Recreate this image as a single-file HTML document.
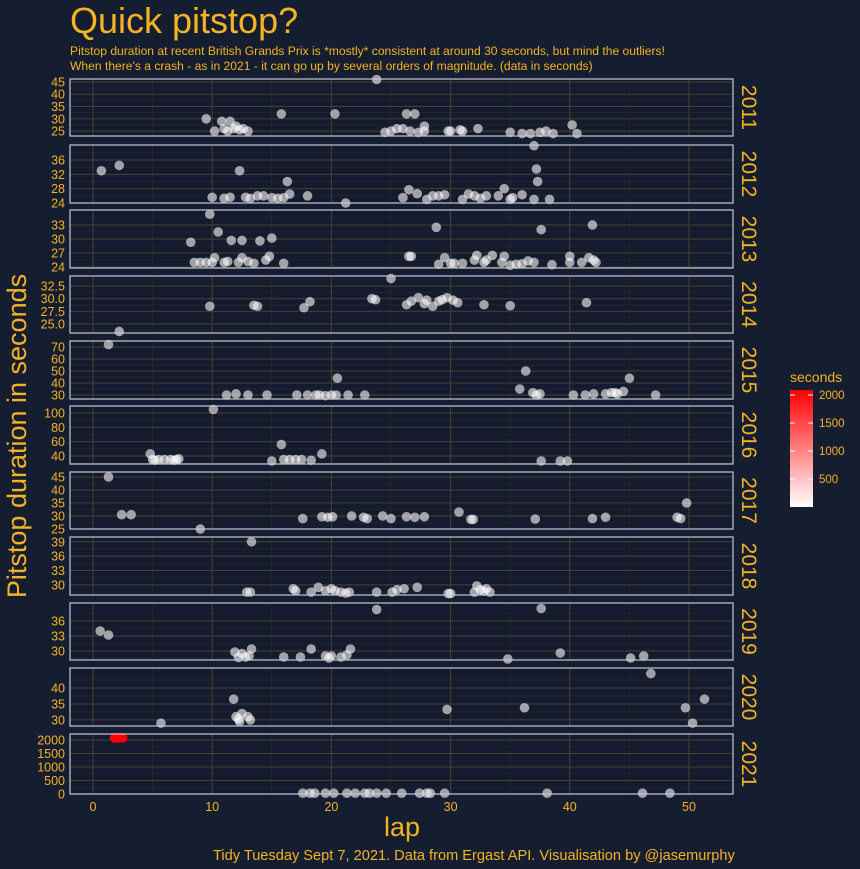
<!DOCTYPE html>
<html><head><meta charset="utf-8">
<style>
html,body{margin:0;padding:0;background:#151d30;}
svg{display:block;font-family:"Liberation Sans",sans-serif;}
</style></head>
<body>
<svg id="chart" width="860" height="869" viewBox="0 0 860 869" xmlns="http://www.w3.org/2000/svg">
<rect x="0" y="0" width="860" height="869" fill="#151d30"/>
<text x="70" y="33" font-size="36" fill="#f5b324">Quick pitstop?</text>
<text x="70" y="55" font-size="12.1" fill="#f5b324">Pitstop duration at recent British Grands Prix is *mostly* consistent at around 30 seconds, but mind the outliers!</text>
<text x="70" y="70" font-size="12.1" fill="#f5b324">When there's a crash - as in 2021 - it can go up by several orders of magnitude. (data in seconds)</text>
<text transform="translate(26,436) rotate(-90)" text-anchor="middle" font-size="27" fill="#f5b324">Pitstop duration in seconds</text>
<text x="402" y="836" text-anchor="middle" font-size="27" fill="#f5b324">lap</text>
<text x="213" y="860" font-size="14.6" fill="#f5b324">Tidy Tuesday Sept 7, 2021. Data from Ergast API. Visualisation by @jasemurphy</text>
<defs><linearGradient id="grad" x1="0" y1="1" x2="0" y2="0">
<stop offset="0" stop-color="#ffffff"/><stop offset="1" stop-color="#ff0000"/></linearGradient></defs>
<g id="legend">
<text x="790" y="382" font-size="14" fill="#f5b324">seconds</text>
<rect x="790" y="390" width="23" height="117" fill="url(#grad)"/>
</g>
<g id="panels"></g>
</svg>
<script>
const years = ["2011","2012","2013","2014","2015","2016","2017","2018","2019","2020","2021"];
const panelTops = [79,145,210,276,341,406,472,537,603,668,734];
const panelBottoms = [136,203,268,333,399,464,529,595,660,726,794];
const yDomains = [[23,46.2],[24,40.2],[23.8,36.2],[23.2,34.5],[26.7,75],[28.8,109.8],[25,46.9],[27.9,40],[28.2,39.6],[28.1,46.25],[0,2222]];
const yTicks = [[25,30,35,40,45],[24,28,32,36],[24,27,30,33],[25,27.5,30,32.5],[30,40,50,60,70],[40,60,80,100],[25,30,35,40,45],[30,33,36,39],[30,33,36],[30,35,40],[0,500,1000,1500,2000]];
const yTickLabels = [["25","30","35","40","45"],["24","28","32","36"],["24","27","30","33"],["25.0","27.5","30.0","32.5"],["30","40","50","60","70"],["40","60","80","100"],["25","30","35","40","45"],["30","33","36","39"],["30","33","36"],["30","35","40"],["0","500","1000","1500","2000"]];
const xTicks = [0,10,20,30,40,50];
const legendTicks = [500,1000,1500,2000];

const laps2011 = [9.5,10.2,10.8,11,11.3,11.5,11.8,12,12.3,12.6,13,15.8,20.3,23.8,24.5,25,25.5,26,26.3,26.6,27,27.3,27.8,27.8,29.8,30,30.8,31,32.3,35,36,36.7,37.5,38,38.6,40.2,40.6];
const secs2011 = [30,25,29,26,25,29,26,27,25.5,26,25,32,32,46,24.5,25,26,26,32,25,32,24.5,27,25,25,25,25.5,25,26,24.5,24,24,24.5,25,24,27.5,24];
const laps2012 = [0.7,2.2,10,11,11.5,12.3,12.8,13.2,13.8,14.3,15,15.5,16,16.3,16.5,18,21.2,26,26.5,27.2,28,28.5,29,29.5,31,31.5,32,32.5,33,34,34.5,35,35.2,36,37,37.2,37.3,37,38.3];
const secs2012 = [33,34.5,25.6,25.3,25.6,33,25.6,25.3,26,26,25.5,25.3,25.5,30,26.5,26,24,25.5,27.7,26.6,25,26,26,26.3,25,26.5,26,25.3,26,26,28,25,25.5,26.3,40,33.5,30,25,25];
const laps2013 = [8.2,8.5,9,9.5,9.8,10,10.2,10.5,11,11.3,11.6,12.2,12.5,12.5,13,13.5,14,14.5,14.8,15,16,26.5,26.7,28.8,29,29.5,30,30.3,31,32,32.2,32.8,33,33.5,34.3,34.5,35,35.5,36,36.5,37,37.6,38.5,40,40,41,41.6,41.9,42,42.2];
const secs2013 = [29.3,25,25,25,35.3,25,26,31.5,25,25.2,29.7,25,29.7,26,25.2,24.8,29.6,25.5,26.3,30.2,24.8,26.3,26.3,32.5,24.6,26,24.8,24.8,24.8,25.5,26.5,25,25.5,26.5,25,26.3,24.4,24.6,24.7,25.3,25,32,24.5,26.3,25,25,26,33,25.5,25];
const laps2014 = [2.2,9.8,13.5,13.8,17.7,18.2,23.4,23.7,25,26.3,26.7,27.3,27.8,28,28.5,29,29.3,29.7,30.2,30.6,32.8,35,41.4];
const secs2014 = [23.5,28.5,28.7,28.5,28.2,29.4,30,29.8,34,28.8,29.5,30.2,29,29.7,28.5,29.5,29.8,30.2,29.7,29.2,28.8,28.6,29.2];
const laps2015 = [1.3,11.2,12,13,14.6,17.1,18,18.7,19,19.5,20,20.4,20.5,21.4,22.8,36.3,35.8,36.9,37.2,37.5,40.3,41.3,42,43,43.5,43.8,44,44.5,45,47.2];
const secs2015 = [72,30,31,30,30,30,30,30,30,29.5,30,30,44,30,30,50,35,32,30,31,30,30,31,31,32,32,31,33,44,30];
const laps2016 = [10.1,4.8,5,5.5,6,6.5,7,7.2,5.2,6.8,15,15.8,16,16.5,17,17.5,18.3,19.2,37.6,39.2,39.8];
const secs2016 = [105,43,35,35,35,35,35,36,34,34,33,56,35,35,35,35,34,43,33,33,33];
const laps2017 = [1.3,2.4,3.2,9,17.6,19.2,19.7,20.1,21.7,22.7,23,24.3,25,26.3,27,27.8,30.7,31.7,31.9,37.1,41.9,43,49,49.3,49.8];
const secs2017 = [45,30.5,30.5,25,29,29.7,29.5,29.7,30,29.5,29,30,29,29.7,29.5,29.7,31.5,28.7,28.7,28.8,29,29.5,29.5,29,35];
const laps2018 = [12.9,13.2,13.3,16.8,17,18.3,18.9,19.5,20,20.3,20.8,21.2,21.5,23.8,25.1,25.5,26.1,27.2,29.8,30,32,32.2,32.5,32.8,33,33.3];
const secs2018 = [28.5,28.5,39,29.2,28.8,28.5,29.5,28.8,29.2,28.8,28.5,28.3,28.5,28.5,28.5,29,29.2,29.5,28.2,28.2,28.5,29.8,29,28.7,29.2,28.5];
const laps2019 = [0.6,1.3,11.9,12.2,12.5,12.8,13.1,13.3,16,17.4,18.3,19.5,19.8,20,20.8,21.3,21.6,23.8,34.8,37.6,39.2,45.1,46.2];
const secs2019 = [34,33.2,29.8,28.7,29.5,28.8,29,30.4,28.8,28.8,30.4,29,28.6,29,28.8,29.2,30.4,38.3,28.4,38.5,29.6,28.6,29];
const laps2020 = [5.7,11.8,12,12.2,12.5,13,13.2,12.3,29.7,36.2,46.8,49.7,50.3,51.3];
const secs2020 = [29,36.5,31,30.3,32,31,30,29.5,33.3,33.8,44.5,33.8,29,36.5];
const laps2021 = [1.8,1.9,2.1,2.3,2.5,17.6,18.2,18.6,19.5,20.2,21.3,22,22.8,23.2,23.8,24.6,25.9,27.4,28,28.3,29.5,38.1,46.1,48.4];
const secs2021 = [2080,2080,2080,2080,2080,30,30,30,30,30,30,30,30,30,30,30,30,30,30,30,30,30,30,30];
const allLaps = [laps2011,laps2012,laps2013,laps2014,laps2015,laps2016,laps2017,laps2018,laps2019,laps2020,laps2021];
const allSecs = [secs2011,secs2012,secs2013,secs2014,secs2015,secs2016,secs2017,secs2018,secs2019,secs2020,secs2021];

const NS="http://www.w3.org/2000/svg";
const PX0=70, PX1=733;
function xScale(l){return 93 + l*(689-93)/50;}
function yScale(i,v){const d=yDomains[i];return panelBottoms[i]-(v-d[0])/(d[1]-d[0])*(panelBottoms[i]-panelTops[i]);}
function colorOf(v){const t=Math.max(0,Math.min(1,v/2090));const g=Math.round(255*(1-t));return "rgb(255,"+g+","+g+")";}
function mk(tag,attrs,parent){const e=document.createElementNS(NS,tag);for(const k in attrs)e.setAttribute(k,attrs[k]);parent.appendChild(e);return e;}
const root=document.getElementById("panels");
years.forEach((yr,i)=>{
  const g=mk("g",{},root);
  
  
  const top=panelTops[i],bot=panelBottoms[i];
  const bg=mk("rect",{x:PX0,y:top,width:PX1-PX0,height:bot-top,fill:"#141b2e"},g);
  
  
  for(let l=5;l<=50;l+=10){const x=xScale(l);const ln=mk("line",{x1:x,x2:x,y1:top,y2:bot,stroke:"#2a2a2c","stroke-width":0.6},g);
    
    }
  const tk=yTicks[i];
  for(let k=0;k<tk.length;k++){
    const vals=[];
    if(k<tk.length-1)vals.push((tk[k]+tk[k+1])/2);
    if(k==0)vals.push(tk[0]-(tk[1]-tk[0])/2);
    if(k==tk.length-1)vals.push(tk[k]+(tk[1]-tk[0])/2);
    vals.forEach(v=>{const y=yScale(i,v);if(y>top&&y<bot){const ln=mk("line",{x1:PX0,x2:PX1,y1:y,y2:y,stroke:"#2a2a2c","stroke-width":0.6},g);
      
      }});
  }
  xTicks.forEach(l=>{const x=xScale(l);const ln=mk("line",{x1:x,x2:x,y1:top,y2:bot,stroke:"#474230","stroke-width":1},g);
    
    });
  tk.forEach((v,k)=>{const y=yScale(i,v);
    const ln=mk("line",{x1:PX0,x2:PX1,y1:y,y2:y,stroke:"#474230","stroke-width":1},g);
    
    
    const t=mk("text",{x:PX0-5,y:y+4.5,"text-anchor":"end","font-size":12.5,fill:"#f5b324"},g);
    t.textContent=yTickLabels[i][k];
    
    });
  const laps=allLaps[i],secs=allSecs[i];
  laps.forEach((l,j)=>{const c=mk("circle",{cx:xScale(l),cy:yScale(i,secs[j]),r:4.8,fill:colorOf(secs[j]),"fill-opacity":secs[j]>1000?0.9:0.6},g);
    
    });
  const br=mk("rect",{x:PX0,y:top,width:PX1-PX0,height:bot-top,fill:"none",stroke:"#c5c9d6","stroke-width":1.2},g);
  
  
  const st=mk("text",{transform:"translate("+(PX1+9)+","+((top+bot)/2)+") rotate(90)","text-anchor":"middle","font-size":21,fill:"#f5b324"},g);
  st.textContent=yr;
  
  
});
xTicks.forEach(l=>{const t=mk("text",{x:xScale(l),y:811,"text-anchor":"middle","font-size":12.5,fill:"#f5b324"},root);
  t.textContent=String(l);
  
  });
const leg=document.getElementById("legend");
legendTicks.forEach(v=>{const y=507-v*(117/2090);
  const a=mk("line",{x1:790,x2:795,y1:y,y2:y,stroke:"#ffffff","stroke-width":1},leg);
  
  
  const b=mk("line",{x1:808,x2:813,y1:y,y2:y,stroke:"#ffffff","stroke-width":1},leg);
  
  
  const t=mk("text",{x:819,y:y+4,"font-size":11.5,fill:"#f5b324"},leg);
  t.textContent=String(v);
  
  });
</script>
</body></html>
